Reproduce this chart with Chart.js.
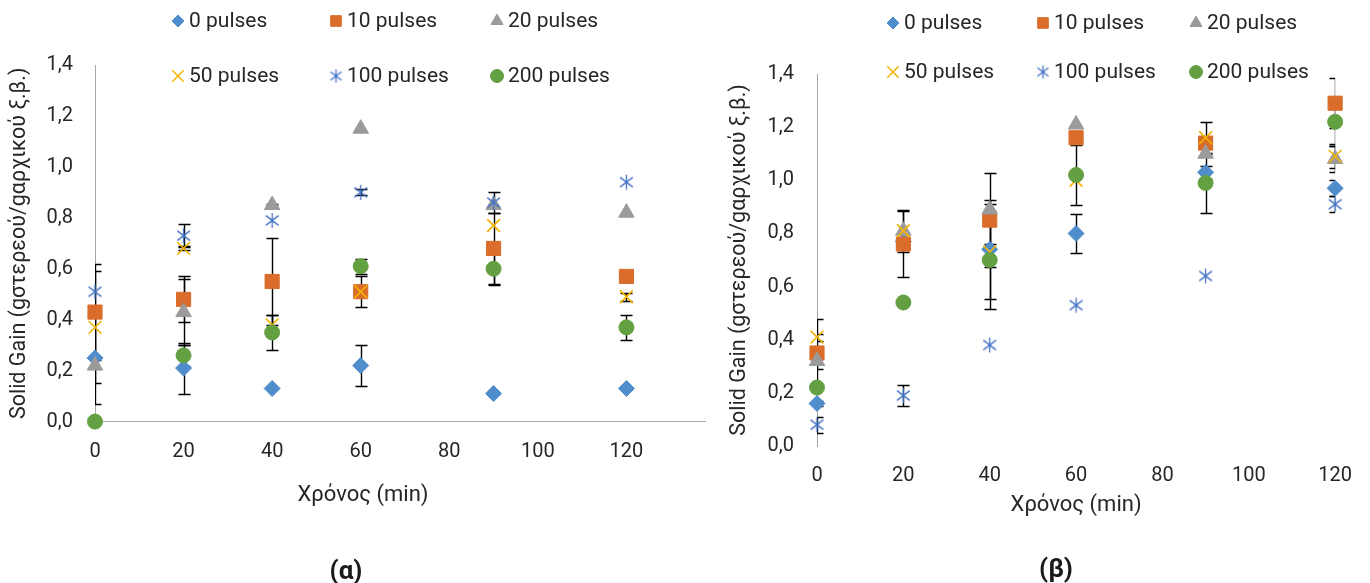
<!DOCTYPE html>
<html lang="el">
<head>
<meta charset="UTF-8">
<title>Solid Gain</title>
<script src="https://cdn.jsdelivr.net/npm/chart.js@4.4.0/dist/chart.umd.min.js"></script>
<style>
  body { margin: 0; background: #fff; }
  #wrap { position: relative; width: 1370px; height: 583px; overflow: hidden; background: #fff; }
  .panel { position: absolute; top: 0; height: 583px; background: #fff; }
  #panelA { left: 0; width: 726px; }
  #panelB { left: 706px; width: 664px; z-index: 1; }
  .caption {
    position: absolute; z-index: 2; transform: translate(-50%, -50%);
    font-family: Roboto, sans-serif; font-weight: bold; font-size: 26px; color: #1a1a1a;
  }
</style>
</head>
<body>
<div id="wrap">
  <div class="panel" id="panelA"><canvas id="chartA" width="726" height="583"></canvas></div>
  <div class="panel" id="panelB"><canvas id="chartB" width="664" height="583"></canvas></div>
  <div class="caption" style="left:346px; top:570px;">(α)</div>
  <div class="caption" style="left:1056px; top:568px;">(β)</div>
</div>

<script>
// sampling times (min) and series
const times = [0, 20, 40, 60, 90, 120];
const seriesLabels = ['0 pulses', '10 pulses', '20 pulses', '50 pulses', '100 pulses', '200 pulses'];
const xTicks = [0, 20, 40, 60, 80, 100, 120];
const yTicks = [0, 0.2, 0.4, 0.6, 0.8, 1.0, 1.2, 1.4];

// (α) solid gain, one row per series
const gainA = [
  [0.25, 0.21, 0.13, 0.22, 0.11, 0.13],
  [0.43, 0.48, 0.55, 0.51, 0.68, 0.57],
  [0.22, 0.43, 0.85, 1.15, 0.85, 0.82],
  [0.37, 0.68, 0.38, 0.51, 0.77, 0.49],
  [0.51, 0.73, 0.79, 0.90, 0.86, 0.94],
  [0.00, 0.26, 0.35, 0.61, 0.60, 0.37]
];
const errA = [
  [0.18, 0.10, 0, 0.08, 0, 0],
  [0.19, 0.09, 0.17, 0.06, 0.14, 0],
  [0, 0.13, 0.005, 0, 0, 0],
  [0.22, 0.008, 0.04, 0, 0, 0.015],
  [0, 0.045, 0, 0.012, 0.04, 0],
  [0, 0.04, 0.07, 0.03, 0.065, 0.05]
];

// (β)
const gainB = [
  [0.16, 0.77, 0.74, 0.80, 1.03, 0.97],
  [0.35, 0.76, 0.85, 1.16, 1.14, 1.29],
  [0.32, 0.81, 0.89, 1.21, 1.10, 1.08],
  [0.41, 0.81, 0.73, 1.00, 1.16, 1.09],
  [0.08, 0.19, 0.38, 0.53, 0.64, 0.91],
  [0.22, 0.54, 0.70, 1.02, 0.99, 1.22]
];
const errB = [
  [0.01, 0, 0.185, 0.075, 0.025, 0.03],
  [0.128, 0.125, 0.177, 0, 0, 0.094],
  [0.03, 0, 0.02, 0, 0, 0.05],
  [0.013, 0.08, 0.03, 0, 0.06, 0.045],
  [0.03, 0.04, 0, 0, 0, 0.03],
  [0, 0, 0.186, 0.113, 0.113, 0.09]
];

const FONT = 'Roboto, "Open Sans", sans-serif';
const TEXT = '#262626';
const AXIS = '#A6A6A6';

const markers = [
  { style: 'rectRot',  color: '#4F8DCB', r: 8,   lr: 6 },
  { style: 'rect',     color: '#DA6D2B', r: 10,  lr: 7.5 },
  { style: 'triangle', color: '#9B9B9B', r: 9,   lr: 7 },
  { style: 'crossRot', color: '#F2B300', r: 9,   lr: 8 },
  { style: 'asterisk', color: '#4472C4', r: 7.5, lr: 6.5 },
  { style: 'circle',   color: '#63A041', r: 7.5, lr: 6.5 }
];

// six-armed star marker (vertical + two diagonals)
function asteriskImage(r, color) {
  const s = Math.ceil(r * 2 + 2);
  const c = document.createElement('canvas');
  c.width = c.height = s;
  const g = c.getContext('2d');
  const m = s / 2;
  g.strokeStyle = color;
  g.lineWidth = 1.3;
  g.beginPath();
  g.moveTo(m, m - r); g.lineTo(m, m + r);
  g.moveTo(m - r * 0.85, m - r * 0.65); g.lineTo(m + r * 0.85, m + r * 0.65);
  g.moveTo(m - r * 0.85, m + r * 0.65); g.lineTo(m + r * 0.85, m - r * 0.65);
  g.stroke();
  return c;
}

const errorBars = {
  id: 'errorBars',
  beforeDatasetsDraw(chart, args, opts) {
    const { ctx, chartArea: a, scales: { x, y } } = chart;
    ctx.save();
    ctx.beginPath();
    ctx.rect(a.left, a.top - 20, a.right - a.left, a.bottom - a.top + 20);
    ctx.clip();
    ctx.strokeStyle = '#000';
    ctx.lineWidth = 1.4;
    chart.data.datasets.forEach(ds => {
      ds.data.forEach((p, j) => {
        const e = ds.errors[j];
        if (!e) return;
        const px = Math.round(x.getPixelForValue(p.x)) + 0.5;
        const top = Math.round(y.getPixelForValue(p.y + e)) + 0.5;
        const bot = Math.round(y.getPixelForValue(p.y - e)) + 0.5;
        ctx.beginPath();
        ctx.moveTo(px, top); ctx.lineTo(px, bot);
        ctx.moveTo(px - opts.cap, top); ctx.lineTo(px + opts.cap, top);
        ctx.moveTo(px - opts.cap, bot); ctx.lineTo(px + opts.cap, bot);
        ctx.stroke();
      });
    });
    ctx.restore();
  }
};

// legend laid out as a 3 x 2 grid
const gridLegend = {
  id: 'gridLegend',
  afterDraw(chart, args, opts) {
    const ctx = chart.ctx;
    const drawPoint = Chart.helpers && Chart.helpers.drawPoint;
    ctx.save();
    ctx.font = '21px ' + FONT;
    ctx.textBaseline = 'middle';
    ctx.textAlign = 'left';
    chart.data.datasets.forEach((ds, i) => {
      const m = markers[i];
      const x = opts.cols[i % 3], y = opts.rows[Math.floor(i / 3)];
      ctx.fillStyle = m.color;
      ctx.strokeStyle = m.color;
      ctx.lineWidth = m.style === 'crossRot' ? 1.5 : 1;
      const style = m.style === 'asterisk' ? asteriskImage(m.lr, m.color) : m.style;
      if (drawPoint) drawPoint(ctx, { pointStyle: style, radius: m.lr, borderWidth: 1, rotation: 0 }, x, y);
      ctx.fillStyle = TEXT;
      ctx.fillText(ds.label, x + 11, y + 1);
    });
    ctx.restore();
  }
};

function buildChart(id, gains, errs, L) {
  const datasets = seriesLabels.map((label, i) => {
    const m = markers[i];
    return {
      label,
      data: times.map((t, j) => ({ x: t, y: gains[i][j] })),
      errors: errs[i],
      pointStyle: m.style === 'asterisk' ? asteriskImage(m.r, m.color) : m.style,
      pointRadius: m.r,
      pointHoverRadius: m.r,
      backgroundColor: m.color,
      borderColor: m.color,
      pointBorderWidth: m.style === 'crossRot' ? 1.6 : 1,
      showLine: false,
      clip: false,
      order: seriesLabels.length - i
    };
  });

  const tickFont = { family: FONT, size: 20 };
  const titleFont = { family: FONT, size: 22, weight: 'normal' };

  return new Chart(document.getElementById(id), {
    type: 'scatter',
    data: { datasets },
    options: {
      responsive: false,
      animation: false,
      events: [],
      layout: { padding: L.padding },
      plugins: {
        legend: { display: false },
        tooltip: { enabled: false },
        title: {
          display: L.bottomTitle,
          position: 'bottom',
          text: 'Χρόνος (min)',
          color: TEXT,
          font: titleFont,
          padding: { top: 0, bottom: L.titlePadBottom }
        },
        gridLegend: { cols: L.legendCols, rows: L.legendRows },
        errorBars: { cap: 6 }
      },
      scales: {
        x: {
          type: 'linear',
          min: 0,
          max: L.xMax,
          grid: { display: false, drawTicks: false },
          border: { display: L.xBorder, color: AXIS, width: 1 },
          ticks: { font: tickFont, color: TEXT, padding: 18, autoSkip: false, maxRotation: 0 },
          afterBuildTicks: s => { s.ticks = xTicks.map(v => ({ value: v })); },
          afterFit: s => { s.height = L.xHeight; },
          title: {
            display: !L.bottomTitle,
            text: 'Χρόνος (min)',
            color: TEXT,
            font: titleFont,
            padding: { top: 0, bottom: L.titlePadBottom }
          }
        },
        y: {
          min: 0,
          max: 1.4,
          grid: { display: false, drawTicks: false },
          border: { display: true, color: AXIS, width: 1 },
          ticks: {
            font: tickFont, color: TEXT, padding: L.yTickPad, autoSkip: false,
            callback: v => v.toFixed(1).replace('.', ',')
          },
          afterBuildTicks: s => { s.ticks = yTicks.map(v => ({ value: v })); },
          afterFit: s => { s.width = L.yWidth; },
          title: {
            display: true,
            text: 'Solid Gain (gστερεού/gαρχικού ξ.β.)',
            color: TEXT,
            font: { family: FONT, size: 21.5 },
            padding: { top: L.yTitlePad, bottom: 0 }
          }
        }
      }
    },
    plugins: [errorBars, gridLegend]
  });
}

buildChart('chartA', gainA, errA, {
  padding: { left: 0, top: 65, right: 0, bottom: 0 },
  xMax: 140,
  xBorder: true,
  xHeight: 61,
  bottomTitle: true,
  titlePadBottom: 74,
  yWidth: 95,
  yTickPad: 22,
  yTitlePad: 7,
  legendCols: [178, 336, 497],
  legendRows: [21, 76]
});

buildChart('chartB', gainB, errB, {
  padding: { left: 0, top: 74, right: 32, bottom: 0 },
  xMax: 120,
  xBorder: false,
  xHeight: 137,
  bottomTitle: false,
  titlePadBottom: 64,
  yWidth: 111,
  yTickPad: 23,
  yTitlePad: 21,
  legendCols: [187, 337, 490],
  legendRows: [23, 72]
});
</script>
</body>
</html>
